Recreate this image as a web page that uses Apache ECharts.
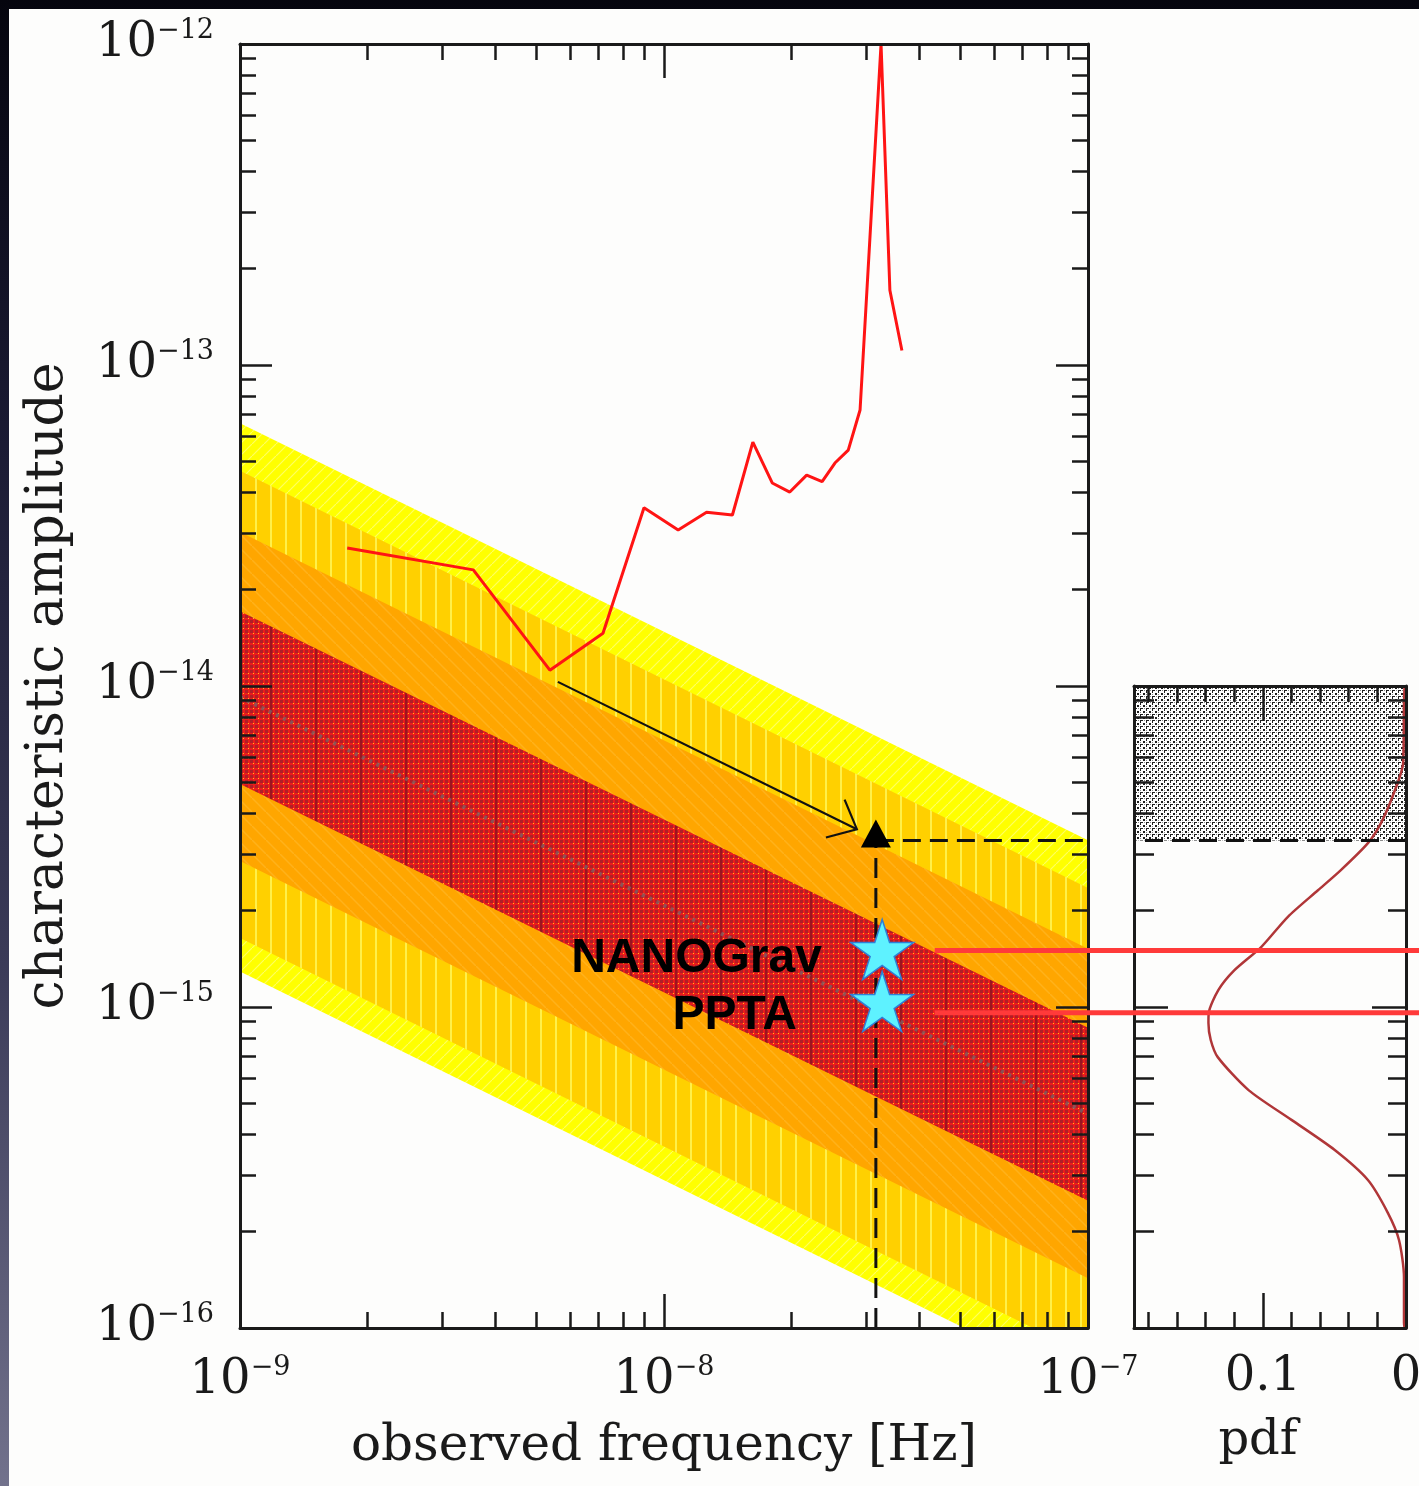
<!DOCTYPE html>
<html>
<head>
<meta charset="utf-8">
<title>Characteristic amplitude vs observed frequency</title>
<script src="https://cdn.jsdelivr.net/npm/echarts@6/dist/echarts.min.js"></script>
<style>
  html, body { margin: 0; padding: 0; width: 1419px; height: 1486px; overflow: hidden;
    background: linear-gradient(to bottom, #05050e 0%, #1b1b34 30%, #3b3b58 65%, #72728c 100%); }
  #panel { position: absolute; left: 9px; top: 9px; right: 0; bottom: 0; background: #fdfdfc; }
  #chart { position: absolute; left: 0; top: 0; width: 1419px; height: 1486px; }
</style>
</head>
<body>
<div id="panel"></div>
<div id="chart"></div>
<script>
// ---------- axis ranges and ticks ----------
const freqRange = [1e-9, 1e-7];          // Hz
const ampRange = [1e-16, 1e-12];         // characteristic amplitude
const sideAmpRange = [1e-16, 1e-14];
const pdfRange = [0, 0.19];

const freqLabelTicks = [1e-9, 1e-8, 1e-7];
const freqMinorTicks = [2e-9, 3e-9, 4e-9, 5e-9, 6e-9, 7e-9, 8e-9, 9e-9,
                        2e-8, 3e-8, 4e-8, 5e-8, 6e-8, 7e-8, 8e-8, 9e-8];
const ampLabelTicks = [1e-16, 1e-15, 1e-14, 1e-13, 1e-12];
const ampMinorTicks = [2e-16, 3e-16, 4e-16, 5e-16, 6e-16, 7e-16, 8e-16, 9e-16,
                       2e-15, 3e-15, 4e-15, 5e-15, 6e-15, 7e-15, 8e-15, 9e-15,
                       2e-14, 3e-14, 4e-14, 5e-14, 6e-14, 7e-14, 8e-14, 9e-14,
                       2e-13, 3e-13, 4e-13, 5e-13, 6e-13, 7e-13, 8e-13, 9e-13];
const pdfLabelTicks = [0.1, 0];
const pdfMinorTicks = [0.02, 0.04, 0.06, 0.08, 0.12, 0.14, 0.16, 0.18];

// ---------- predicted background bands (edges at the two ends of the band) ----------
const bandFreq = [1e-9, 1e-7];
const outerBandHi = [6.59e-14, 3.31e-15];
const outerBandLo = [1.29e-15, 6.46e-17];
const wideBandHi = [4.68e-14, 2.35e-15];
const wideBandLo = [1.64e-15, 8.24e-17];
const midBandHi = [3.02e-14, 1.52e-15];
const midBandLo = [2.85e-15, 1.43e-16];
const innerBandHi = [1.71e-14, 8.61e-16];
const innerBandLo = [4.95e-15, 2.49e-16];
const medianAmp = [9.24e-15, 4.65e-16];

// ---------- upper-limit curve ----------
const limitFreq = [1.79e-9, 3.55e-9, 5.38e-9, 7.18e-9, 8.97e-9, 1.08e-8, 1.26e-8, 1.45e-8,
                   1.62e-8, 1.80e-8, 1.98e-8, 2.17e-8, 2.36e-8, 2.53e-8, 2.72e-8, 2.90e-8,
                   3.25e-8, 3.41e-8, 3.64e-8];
const limitAmp = [2.69e-14, 2.30e-14, 1.12e-14, 1.46e-14, 3.59e-14, 3.06e-14, 3.48e-14, 3.41e-14,
                  5.75e-14, 4.29e-14, 4.02e-14, 4.54e-14, 4.33e-14, 4.95e-14, 5.43e-14, 7.24e-14,
                  1.0e-12, 1.71e-13, 1.11e-13];

// ---------- arrow, bound and measurements ----------
const arrowFrom = [5.62e-9, 1.03e-14];
const arrowTo = [2.85e-8, 3.58e-15];
const boundFreq = 3.16e-8;
const boundAmp = 3.3e-15;
const hatchAmp = [3.3e-15, 1e-14];

const ptaNames = ['NANOGrav', 'PPTA'];
const ptaStarFreq = [3.27e-8, 3.27e-8];
const ptaStarAmp = [1.51e-15, 1.04e-15];
const ptaLineAmp = [1.50e-15, 9.6e-16];
const ptaLineStartFreq = 4.35e-8;

// ---------- amplitude probability density (side panel) ----------
const pdfAmp = [1.0e-16, 1.04e-16, 1.44e-16, 1.88e-16, 2.28e-16, 2.89e-16, 3.59e-16, 4.45e-16,
                5.51e-16, 6.98e-16, 7.89e-16, 8.91e-16, 9.57e-16, 1.13e-15, 1.30e-15, 1.54e-15,
                1.91e-15, 2.31e-15, 2.67e-15, 3.24e-15, 3.74e-15, 4.65e-15, 5.75e-15, 8.85e-15, 1.0e-14];
const pdfVal = [0.001, 0.0014, 0.0014, 0.0049, 0.0126, 0.0266, 0.050, 0.080,
                0.110, 0.1315, 0.1364, 0.138, 0.1378, 0.131, 0.120, 0.101,
                0.0825, 0.0615, 0.0455, 0.0266, 0.0175, 0.0084, 0.002, 0.0014, 0.001];

// ---------- styles ----------
const SERIF = 'DejaVu Serif';
const ink = '#1a1a1a';

function pattern(w, h, paint) {
  const c = document.createElement('canvas');
  c.width = w; c.height = h;
  paint(c.getContext('2d'), w, h);
  return { image: c, repeat: 'repeat' };
}
const outerFill = pattern(12, 12, (g, w, h) => {
  g.fillStyle = '#ffff00'; g.fillRect(0, 0, w, h);
  g.strokeStyle = 'rgba(255,255,160,0.6)'; g.lineWidth = 1.2;
  g.beginPath(); g.moveTo(-1, h + 1); g.lineTo(w + 1, -1); g.stroke();
});
const wideFill = pattern(15, 8, (g, w, h) => {
  g.fillStyle = '#ffd000'; g.fillRect(0, 0, w, h);
  g.fillStyle = '#fff04a'; g.fillRect(0, 0, 2, h);
});
const midFill = pattern(14, 14, (g, w, h) => {
  g.fillStyle = '#ffa600'; g.fillRect(0, 0, w, h);
  g.strokeStyle = 'rgba(255,192,60,0.45)'; g.lineWidth = 1.5;
  g.beginPath(); g.moveTo(-1, -1); g.lineTo(w + 1, h + 1); g.stroke();
});
// fine red grid with yellow dots, plus a sparse darker vertical hatch
const innerFill = pattern(45, 5, (g, w, h) => {
  g.fillStyle = '#ea1c1c'; g.fillRect(0, 0, w, h);
  for (let x = 0; x < w; x += 5) {
    g.fillStyle = '#b01f27'; g.fillRect(x, 0, 3, 3);
    g.fillStyle = '#ffc21a'; g.fillRect(x + 3, 3, 1, 1);
  }
  g.fillStyle = 'rgba(150,20,30,0.85)'; g.fillRect(0, 0, 2, h);
});
const hatchFill = pattern(6, 6, (g, w, h) => {
  g.fillStyle = '#ffffff'; g.fillRect(0, 0, w, h);
  g.fillStyle = '#1e1e1e';
  g.fillRect(0, 0, 3, 1); g.fillRect(0, 0, 1, 3);
  g.fillRect(3, 3, 2, 2);
  g.fillStyle = '#888888'; g.fillRect(4, 0, 1, 1); g.fillRect(0, 4, 1, 1);
});

const starPath = 'path://M50,0 L61.23,34.55 L97.55,34.55 L68.17,55.9 L79.39,90.45 L50,69.1 L20.61,90.45 L31.83,55.9 L2.45,34.55 L38.77,34.55 Z';

function powerLabel(v) {
  const e = Math.round(Math.log10(v));
  return '{b|10}{s|' + (e < 0 ? '\u2212' : '') + Math.abs(e) + '}';
}
const powerRich = {
  b: { fontFamily: SERIF, fontSize: 48, lineHeight: 54, color: ink },
  s: { fontFamily: SERIF, fontSize: 27, lineHeight: 30, verticalAlign: 'top', color: ink }
};

const frameLine = { show: true, onZero: false, lineStyle: { color: ink, width: 3 } };
const noLine = { show: false, onZero: false };
const ticks = (vals, len) => ({ show: true, inside: true, length: len, customValues: vals,
                                lineStyle: { color: ink, width: 2.5 } });
const noLabel = { show: false };

function axisDef(base, position, line, tick, label, extra) {
  return Object.assign({}, base, {
    position: position, axisLine: line, axisTick: tick, axisLabel: label || noLabel,
    splitLine: { show: false }, minorTick: { show: false }, minorSplitLine: { show: false },
    z: 8, silent: true
  }, extra || {});
}

const mainX = { type: 'log', logBase: 10, gridIndex: 0, min: freqRange[0], max: freqRange[1] };
const mainY = { type: 'log', logBase: 10, gridIndex: 0, min: ampRange[0], max: ampRange[1] };
const sideX = { type: 'value', gridIndex: 1, min: pdfRange[0], max: pdfRange[1], inverse: true };
const sideY = { type: 'log', logBase: 10, gridIndex: 1, min: sideAmpRange[0], max: sideAmpRange[1] };

const xAxes = [
  axisDef(mainX, 'bottom', frameLine, ticks(freqLabelTicks, 34),
    { show: true, customValues: freqLabelTicks, formatter: powerLabel, rich: powerRich, margin: 26 },
    { name: 'observed frequency [Hz]', nameLocation: 'middle', nameGap: 94,
      nameTextStyle: { fontFamily: SERIF, fontSize: 50, color: ink } }),
  axisDef(mainX, 'bottom', noLine, ticks(freqMinorTicks, 16)),
  axisDef(mainX, 'top', frameLine, ticks(freqLabelTicks, 34)),
  axisDef(mainX, 'top', noLine, ticks(freqMinorTicks, 16)),
  axisDef(sideX, 'bottom', frameLine, ticks([0.1], 35),
    { show: true, customValues: pdfLabelTicks, fontFamily: SERIF, fontSize: 48, color: ink, margin: 26 },
    { name: 'pdf', nameLocation: 'middle', nameGap: 90,
      nameTextStyle: { fontFamily: SERIF, fontSize: 48, color: ink, padding: [0, 24, 0, 0] } }),
  axisDef(sideX, 'bottom', noLine, ticks(pdfMinorTicks, 16)),
  axisDef(sideX, 'top', frameLine, ticks([0.1], 35)),
  axisDef(sideX, 'top', noLine, ticks(pdfMinorTicks, 16))
];

const yAxes = [
  axisDef(mainY, 'left', frameLine, ticks(ampLabelTicks, 32),
    { show: true, customValues: ampLabelTicks, formatter: powerLabel, rich: powerRich, margin: 26 },
    { name: 'characteristic amplitude', nameLocation: 'middle', nameGap: 166, nameRotate: 90,
      nameTextStyle: { fontFamily: SERIF, fontSize: 52, color: ink } }),
  axisDef(mainY, 'left', noLine, ticks(ampMinorTicks, 16)),
  axisDef(mainY, 'right', frameLine, ticks(ampLabelTicks, 32)),
  axisDef(mainY, 'right', noLine, ticks(ampMinorTicks, 16)),
  axisDef(sideY, 'left', frameLine, ticks([1e-15], 34)),
  axisDef(sideY, 'left', noLine, ticks(ampMinorTicks, 20)),
  axisDef(sideY, 'right', frameLine, ticks([1e-15], 34)),
  axisDef(sideY, 'right', noLine, ticks(ampMinorTicks, 18))
];

// filled band between an upper and a lower edge, both straight in log-log space
function bandSeries(hi, lo, fill, z) {
  return {
    type: 'custom', xAxisIndex: 0, yAxisIndex: 0, clip: true, z: z, silent: true,
    encode: { x: [0, 3], y: [1, 2, 4, 5] },
    data: [[bandFreq[0], hi[0], lo[0], bandFreq[1], hi[1], lo[1]]],
    renderItem: (params, api) => ({
      type: 'polygon',
      shape: { points: [
        api.coord([api.value(0), api.value(1)]),
        api.coord([api.value(3), api.value(4)]),
        api.coord([api.value(3), api.value(5)]),
        api.coord([api.value(0), api.value(2)])
      ] },
      style: { fill: fill, stroke: null }
    })
  };
}

const labelPlacement = {
  NANOGrav: { distance: 28, offset: [0, 9] },
  PPTA: { distance: 53, offset: [0, 14] }
};

const series = [
  bandSeries(outerBandHi, outerBandLo, outerFill, 1),
  bandSeries(wideBandHi, wideBandLo, wideFill, 1),
  bandSeries(midBandHi, midBandLo, midFill, 1),
  bandSeries(innerBandHi, innerBandLo, innerFill, 1),
  {
    type: 'line', xAxisIndex: 0, yAxisIndex: 0, silent: true, z: 2, symbol: 'none',
    data: bandFreq.map((f, i) => [f, medianAmp[i]]),
    lineStyle: { color: 'rgba(125,95,100,0.8)', width: 4, type: [3, 5] }
  },
  {
    type: 'line', xAxisIndex: 0, yAxisIndex: 0, silent: true, z: 4, symbol: 'none', clip: true,
    data: limitFreq.map((f, i) => [f, limitAmp[i]]),
    lineStyle: { color: '#ff1414', width: 3 }
  },
  {
    type: 'custom', xAxisIndex: 0, yAxisIndex: 0, silent: true, z: 5,
    encode: { x: [0, 2], y: [1, 3] },
    data: [[arrowFrom[0], arrowFrom[1], arrowTo[0], arrowTo[1]]],
    renderItem: (params, api) => {
      const a = api.coord([api.value(0), api.value(1)]);
      const b = api.coord([api.value(2), api.value(3)]);
      const ang = Math.atan2(b[1] - a[1], b[0] - a[0]);
      const L = 32, spread = 0.72;
      const arm = s => [b[0] - L * Math.cos(ang + s), b[1] - L * Math.sin(ang + s)];
      return { type: 'group', children: [
        { type: 'line', shape: { x1: a[0], y1: a[1], x2: b[0], y2: b[1] }, style: { stroke: '#111', lineWidth: 2.2 } },
        { type: 'polyline', shape: { points: [arm(spread), b, arm(-spread)] }, style: { stroke: '#111', lineWidth: 2.2, fill: null } }
      ] };
    }
  },
  {
    type: 'line', xAxisIndex: 0, yAxisIndex: 0, silent: true, z: 5, symbol: 'none',
    data: [[boundFreq, ampRange[0]], [boundFreq, boundAmp]],
    lineStyle: { color: '#111', width: 3, type: [20, 10] }
  },
  {
    type: 'line', xAxisIndex: 0, yAxisIndex: 0, silent: true, z: 5, symbol: 'none',
    data: [[boundFreq, boundAmp], [freqRange[1], boundAmp]],
    lineStyle: { color: '#111', width: 3, type: [18, 9] }
  },
  {
    type: 'scatter', xAxisIndex: 0, yAxisIndex: 0, silent: true, z: 6,
    data: [[boundFreq, boundAmp]],
    symbol: 'triangle', symbolSize: [30, 28], symbolOffset: [0, -7],
    itemStyle: { color: '#000', opacity: 1 }
  },
  {
    type: 'scatter', xAxisIndex: 0, yAxisIndex: 0, silent: true, z: 7,
    symbol: starPath, symbolSize: [63, 60],
    itemStyle: { color: '#5ef2ff', borderColor: '#2f7fd6', borderWidth: 1.5, opacity: 1 },
    label: { show: true, position: 'left', formatter: '{b}', fontFamily: 'Liberation Sans',
             fontWeight: 'bold', fontSize: 48, color: '#000', opacity: 1 },
    data: ptaNames.map((n, i) => ({
      name: n, value: [ptaStarFreq[i], ptaStarAmp[i]], label: labelPlacement[n]
    }))
  },
  // horizontal markers carrying each measurement across to the side panel
  {
    type: 'custom', xAxisIndex: 0, yAxisIndex: 0, silent: true, z: 20, clip: false,
    encode: { x: 0, y: 1 },
    data: ptaNames.map((n, i) => [ptaLineStartFreq, ptaLineAmp[i]]),
    renderItem: (params, api) => {
      const p = api.coord([api.value(0), api.value(1)]);
      return { type: 'line', shape: { x1: p[0], y1: p[1], x2: api.getWidth(), y2: p[1] },
               style: { stroke: '#ff3a3a', lineWidth: 5 } };
    }
  },
  // side panel
  {
    type: 'custom', xAxisIndex: 4, yAxisIndex: 4, silent: true, z: 1, clip: true,
    encode: { x: [0, 2], y: [1, 3] },
    data: [[pdfRange[0], hatchAmp[0], pdfRange[1], hatchAmp[1]]],
    renderItem: (params, api) => {
      const p0 = api.coord([api.value(0), api.value(1)]);
      const p1 = api.coord([api.value(2), api.value(3)]);
      return { type: 'rect', shape: { x: Math.min(p0[0], p1[0]), y: Math.min(p0[1], p1[1]),
        width: Math.abs(p1[0] - p0[0]), height: Math.abs(p1[1] - p0[1]) }, style: { fill: hatchFill } };
    }
  },
  {
    type: 'line', xAxisIndex: 4, yAxisIndex: 4, silent: true, z: 5, symbol: 'none',
    data: [[pdfRange[0], boundAmp], [pdfRange[1], boundAmp]],
    lineStyle: { color: '#111', width: 3, type: [18, 9] }
  },
  {
    type: 'line', xAxisIndex: 4, yAxisIndex: 4, silent: true, z: 4, symbol: 'none', clip: true,
    smooth: 0.25,
    data: pdfAmp.map((a, i) => [pdfVal[i], a]),
    lineStyle: { color: '#b03638', width: 2.5 }
  }
];

const chart = echarts.init(document.getElementById('chart'), null, { renderer: 'canvas', width: 1419, height: 1486 });
chart.setOption({
  animation: false,
  backgroundColor: 'transparent',
  textStyle: { fontFamily: SERIF },
  grid: [
    { left: 240, top: 44, width: 848, height: 1284, containLabel: false, outerBoundsMode: 'none' },
    { left: 1134, top: 686, width: 272, height: 642, containLabel: false, outerBoundsMode: 'none' }
  ],
  xAxis: xAxes,
  yAxis: yAxes,
  series: series
});
</script>
</body>
</html>
